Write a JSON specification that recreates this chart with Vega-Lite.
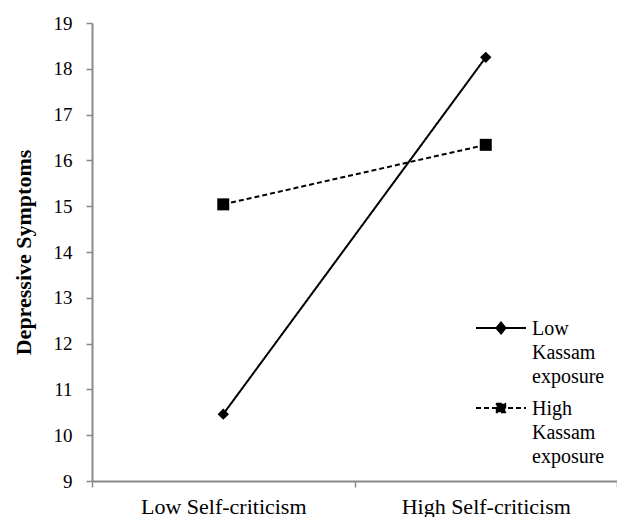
{
  "$schema": "https://vega.github.io/schema/vega-lite/v6.json",
  "autosize": "none",
  "width": 525,
  "height": 458,
  "padding": {"left": 92, "top": 23, "right": 0, "bottom": 36},
  "background": "white",
  "config": {
    "font": "Liberation Serif",
    "view": {"stroke": null},
    "axis": {
      "grid": false,
      "domainColor": "#8a8a8a",
      "domainWidth": 2,
      "tickColor": "#8a8a8a",
      "tickWidth": 1.5,
      "tickSize": 6,
      "labelFont": "Liberation Serif",
      "labelColor": "black",
      "titleFont": "Liberation Serif",
      "titleColor": "black"
    },
    "legend": {
      "labelFont": "Liberation Serif"
    }
  },
  "data": {
    "values": [
      {"sc": "Low Self-criticism", "group": "Low Kassam exposure", "dep": 10.46},
      {"sc": "High Self-criticism", "group": "Low Kassam exposure", "dep": 18.25},
      {"sc": "Low Self-criticism", "group": "High Kassam exposure", "dep": 15.04},
      {"sc": "High Self-criticism", "group": "High Kassam exposure", "dep": 16.34}
    ]
  },
  "encoding": {
    "x": {
      "field": "sc",
      "type": "nominal",
      "sort": ["Low Self-criticism", "High Self-criticism"],
      "scale": {"type": "band", "paddingInner": 0, "paddingOuter": 0},
      "axis": {
        "title": null,
        "labelAngle": 0,
        "labelFont": "Liberation Serif",
        "labelFontSize": 22,
        "labelBaseline": "alphabetic",
        "labelPadding": 26,
        "tickBand": "extent"
      }
    },
    "y": {
      "field": "dep",
      "type": "quantitative",
      "scale": {"domain": [9, 19], "nice": false, "zero": false},
      "axis": {
        "title": "Depressive Symptoms",
        "titleFontSize": 22,
        "titleFontWeight": "bold",
        "titlePadding": 18,
        "labelFont": "Liberation Serif",
        "labelFontSize": 19,
        "labelPadding": 14,
        "values": [9, 10, 11, 12, 13, 14, 15, 16, 17, 18, 19]
      }
    }
  },
  "layer": [
    {
      "mark": {"type": "line", "color": "black", "strokeWidth": 2},
      "encoding": {
        "strokeDash": {
          "field": "group",
          "type": "nominal",
          "scale": {
            "domain": ["Low Kassam exposure", "High Kassam exposure"],
            "range": [[1, 0], [5, 3]]
          },
          "legend": {
            "orient": "none",
            "legendX": 388,
            "legendY": 284,
            "title": null,
            "padding": 0,
            "symbolSize": 1600,
            "symbolStrokeWidth": 2,
            "symbolStrokeColor": "black",
            "symbolFillColor": "black",
            "labelFont": "Liberation Serif",
            "labelFontSize": 20,
            "labelColor": "black",
            "labelOffset": 10,
            "labelLimit": 0,
            "labelBaseline": "top",
            "rowPadding": 0,
            "labelExpr": "split(datum.label, ' ')",
            "encode": {
              "symbols": {
                "update": {
                  "shape": {"signal": "datum.value === 'Low Kassam exposure' ? 'M-1.25,0H1.25M0,-0.275L0.225,0L0,0.275L-0.225,0Z' : 'M-1.25,0H1.25M-0.21,-0.21H0.21V0.21H-0.21Z'"},
                  "size": {"value": 1600},
                  "fill": {"value": "black"},
                  "stroke": {"value": "black"},
                  "strokeWidth": {"value": 2}
                }
              },
              "labels": {
                "update": {
                  "lineHeight": {"value": 24},
                  "font": {"value": "Liberation Serif"},
                  "dy": {"value": -9}
                }
              }
            }
          }
        }
      }
    },
    {
      "transform": [{"filter": "datum.group === 'Low Kassam exposure'"}],
      "mark": {"type": "point", "filled": true, "color": "black", "opacity": 1, "shape": "diamond", "size": 130}
    },
    {
      "transform": [{"filter": "datum.group === 'High Kassam exposure'"}],
      "mark": {"type": "point", "filled": true, "color": "black", "opacity": 1, "shape": "square", "size": 144}
    }
  ]
}
